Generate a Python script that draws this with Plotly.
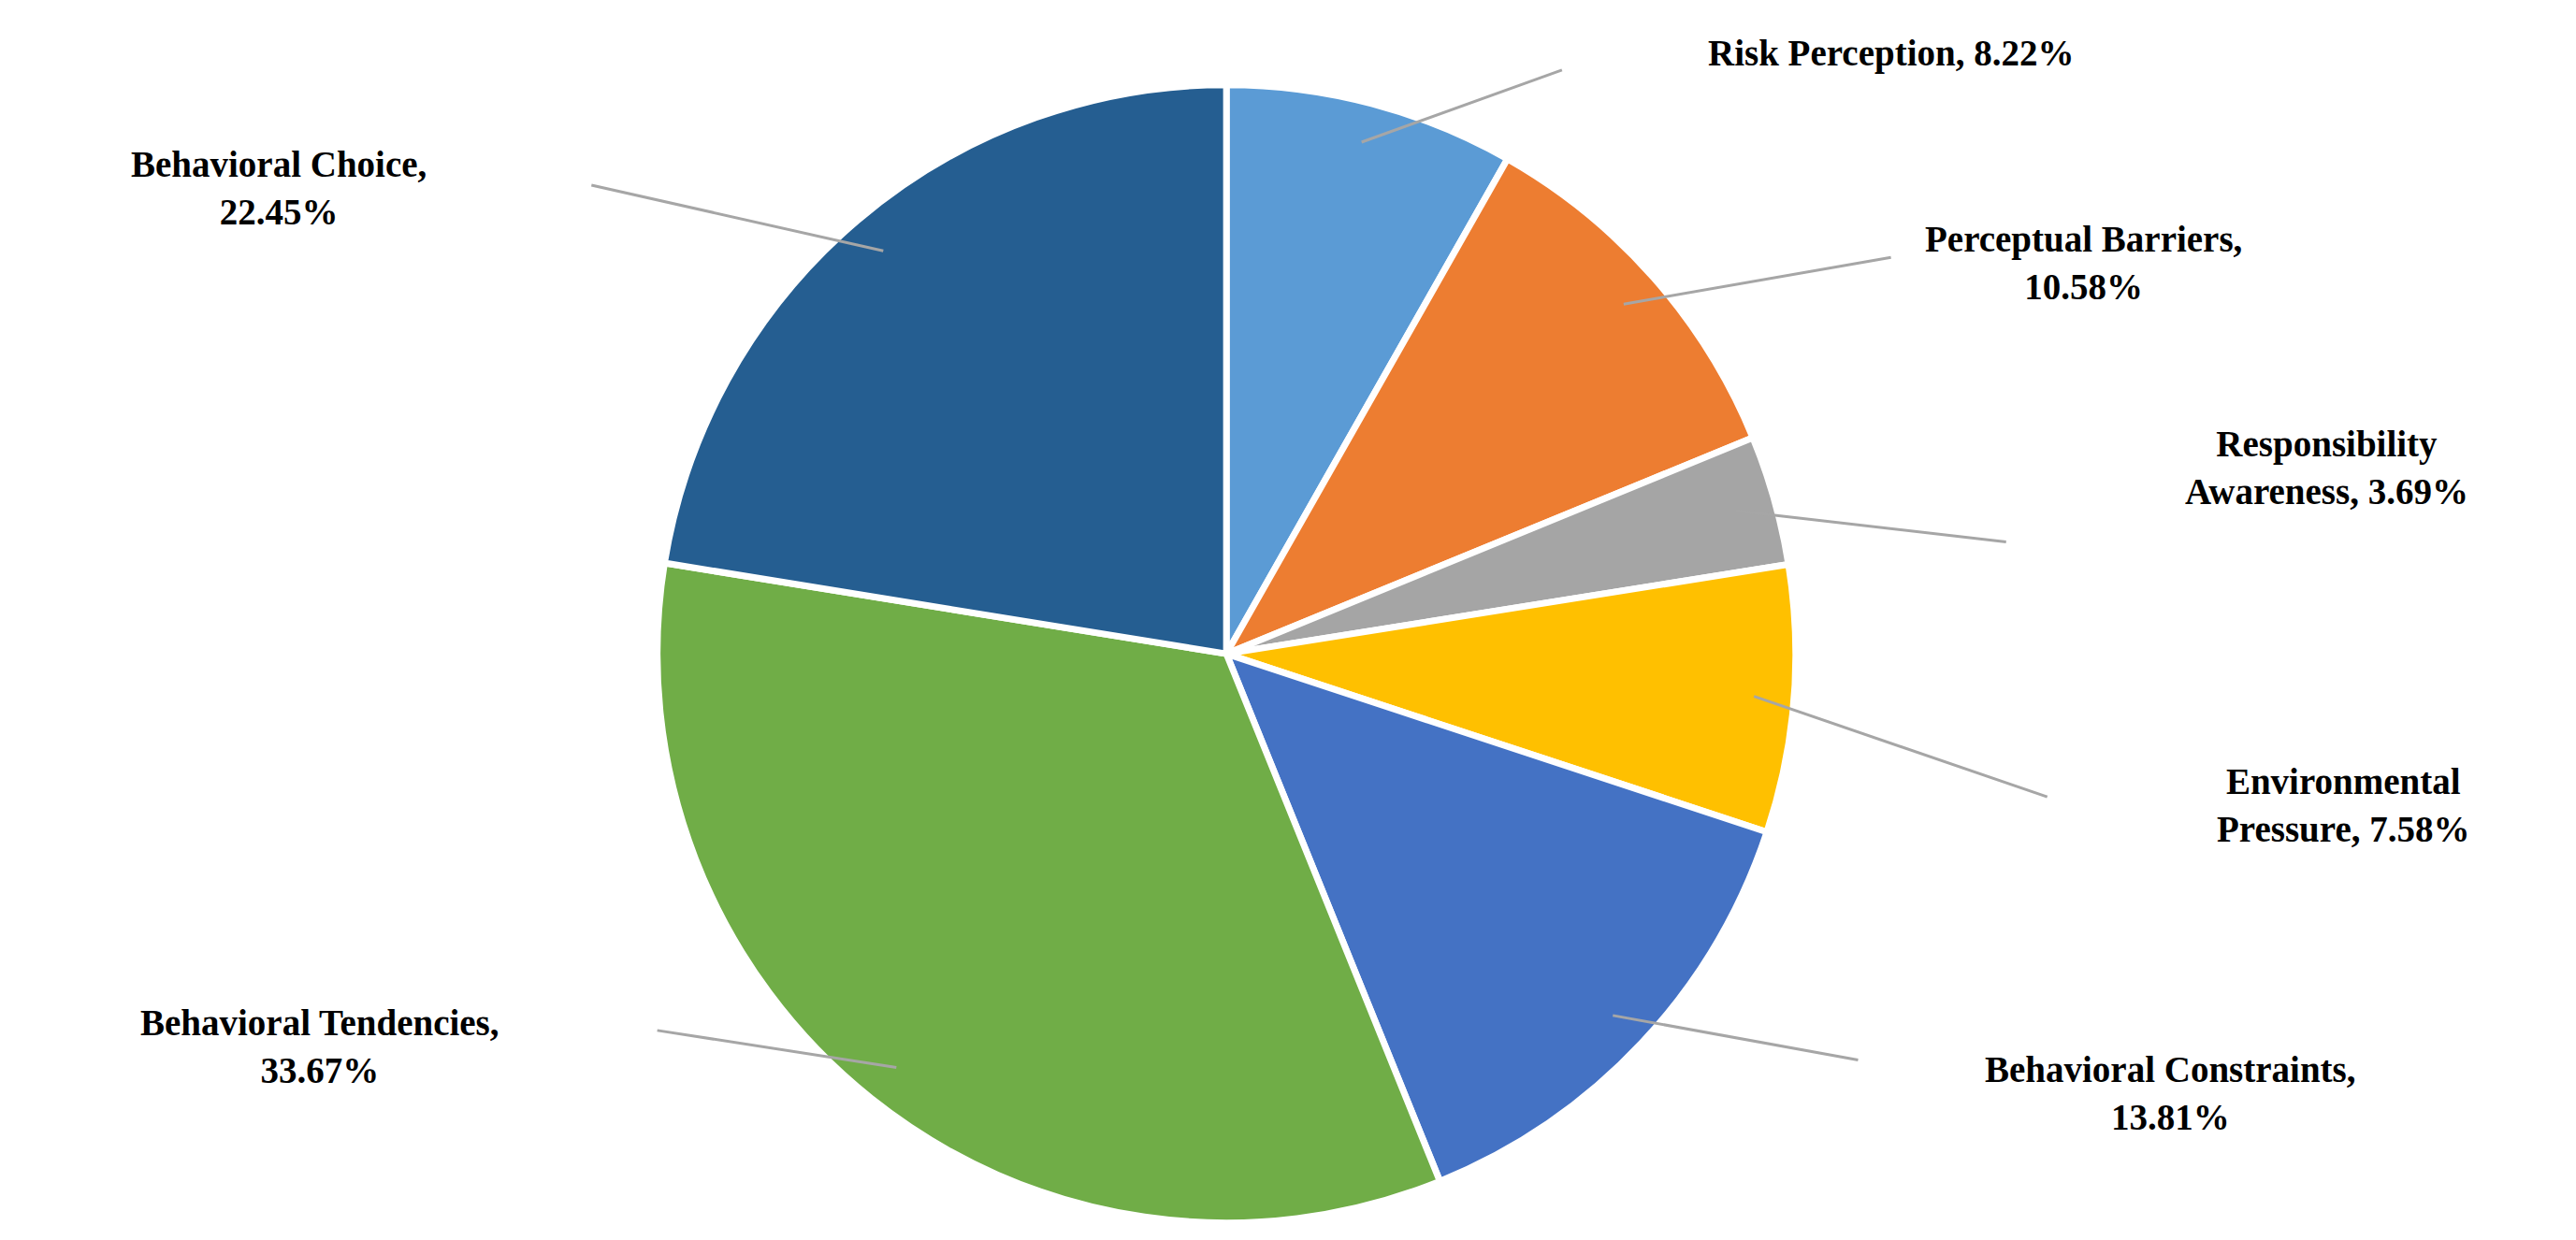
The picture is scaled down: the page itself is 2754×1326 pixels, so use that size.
import math
import plotly.graph_objects as go

labels = ["Risk Perception", "Perceptual Barriers", "Responsibility Awareness",
          "Environmental Pressure", "Behavioral Constraints", "Behavioral Tendencies",
          "Behavioral Choice"]
values = [8.22, 10.58, 3.69, 7.58, 13.81, 33.67, 22.45]
colors = ["#5B9BD5", "#ED7D31", "#A5A5A5", "#FFC000", "#4472C4", "#70AD47", "#255E91"]
label_texts = ["Risk Perception, 8.22%", "Perceptual Barriers,<br>10.58%",
               "Responsibility<br>Awareness, 3.69%", "Environmental<br>Pressure, 7.58%",
               "Behavioral Constraints,<br>13.81%", "Behavioral Tendencies,<br>33.67%",
               "Behavioral Choice,<br>22.45%"]

W, H = 2754, 1326
S = W / 1566
cx, cy, r = 741 * S, 393 * S, 346 * S
# label centres and leader-line end points (display pixels)
label_pos = [(1145, 28), (1262, 155), (1410, 280), (1420, 485), (1315, 660), (190, 632), (165, 110)]
line_end = [(945, 38), (1145, 152), (1215, 325), (1240, 480), (1125, 640), (395, 622), (355, 108)]

fig = go.Figure(go.Pie(
    labels=labels, values=values, sort=False, direction="clockwise", rotation=0,
    marker=dict(colors=colors, line=dict(color="white", width=7)),
    textinfo="none", hoverinfo="label+percent", showlegend=False,
    domain=dict(x=[(cx - r) / W, (cx + r) / W], y=[1 - (cy + r) / H, 1 - (cy - r) / H]),
))

def px(x, y):
    return x / W, 1 - y / H

total = sum(values)
cum = 0
shapes, anns = [], []
for i, v in enumerate(values):
    th = 2 * math.pi * (cum + v / 2) / total
    cum += v
    ex, ey = cx + 0.93 * r * math.sin(th), cy - 0.93 * r * math.cos(th)
    lx, ly = line_end[i][0] * S, line_end[i][1] * S
    x0, y0 = px(ex, ey); x1, y1 = px(lx, ly)
    shapes.append(dict(type="line", xref="paper", yref="paper", x0=x0, y0=y0, x1=x1, y1=y1,
                       line=dict(color="#A6A6A6", width=3)))
    tx, ty = px(label_pos[i][0] * S, label_pos[i][1] * S)
    anns.append(dict(x=tx, y=ty, xref="paper", yref="paper", text="<b>" + label_texts[i] + "</b>",
                     showarrow=False, xanchor="center", yanchor="middle", align="center",
                     font=dict(family="Liberation Serif", size=39, color="black")))

fig.update_layout(width=W, height=H, margin=dict(l=0, r=0, t=0, b=0),
                  paper_bgcolor="white", shapes=shapes, annotations=anns)
fig.write_html("out.html")
